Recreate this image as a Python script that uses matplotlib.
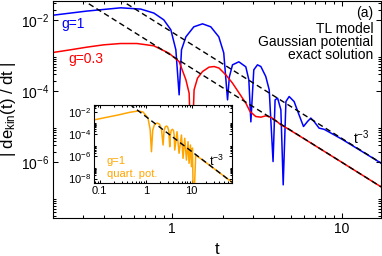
import matplotlib
matplotlib.use("Agg")
import matplotlib.pyplot as plt
import matplotlib.ticker as mticker
import numpy as np

plt.rcParams['font.family'] = ['Liberation Sans', 'DejaVu Sans']
plt.rcParams['mathtext.default'] = 'regular'

# main panel: g=1 (blue)
blue_t = [0.202, 0.316, 0.501, 0.657, 0.784, 0.897, 0.987, 1.056, 1.104, 1.14,
          1.21, 1.347, 1.516, 1.695, 1.889, 2.02, 2.127, 2.18, 2.275, 2.478,
          2.724, 2.838, 2.917, 3.035, 3.19, 3.34, 3.57, 3.74, 3.94, 4.05,
          4.19, 4.38, 4.52, 4.69, 4.9, 5.24, 5.6, 5.95, 6.28, 6.57,
          6.87, 7.35, 7.87, 10.0, 17.0]
blue_v = [1.40e-2, 1.82e-2, 2.25e-2, 2.07e-2, 1.60e-2, 1.03e-2, 5.40e-3, 1.48e-3, 7.96e-5, 1.48e-3,
          3.43e-3, 6.56e-3, 7.96e-3, 6.56e-3, 3.43e-3, 1.21e-3, 5.75e-5, 2.56e-4, 5.57e-4, 6.78e-4,
          4.90e-4, 2.11e-4, 1.38e-5, 4.03e-4, 5.57e-4, 4.99e-4, 2.61e-4, 1.10e-4, 1.05e-6, 5.75e-5,
          6.43e-5, 3.01e-5, 2.32e-7, 5.15e-5, 7.13e-5, 5.15e-5, 2.18e-5, 1.02e-5, 1.41e-5, 1.76e-5,
          1.41e-5, 9.18e-6, 8.5e-6, 4.5e-6, 9.5e-7]

# main panel: g=0.3 (red)
red_t = [0.2, 0.254, 0.318, 0.398, 0.499, 0.625, 0.784, 0.96, 1.104, 1.21,
         1.264, 1.306, 1.352, 1.416, 1.516, 1.656, 1.774, 1.897, 2.078, 2.275,
         2.489, 2.724, 2.885, 3.117, 3.34, 3.57, 3.82, 4.09, 4.38, 4.69,
         6.0, 10.0, 17.0]
red_v = [1.24e-3, 1.48e-3, 1.76e-3, 2.04e-3, 2.22e-3, 2.22e-3, 1.91e-3, 1.19e-3, 6.9e-4, 2.11e-4,
         8.9e-5, 1e-6, 1.10e-4, 2.35e-4, 3.61e-4, 4.80e-4, 4.99e-4, 4.50e-4, 2.91e-4, 1.70e-4,
         8.9e-5, 4.65e-5, 2.70e-5, 1.95e-5, 1.87e-5, 2.04e-5, 1.87e-5, 1.50e-5, 1.14e-5, 9.5e-6,
         4.6e-6, 1.0e-6, 2.04e-7]

# t^-3 guides
hi_t = [0.4, 17.0]
hi_v = [7.3e-2, 9.6e-7]
lo_t = [0.2, 17.0]
lo_v = [0.125, 2.04e-7]

# inset: quartic potential, g=1
ins_t = [0.074, 0.128, 0.25, 0.449, 0.68, 0.873, 1.12, 1.25, 1.33, 1.42,
         1.55, 1.76, 2.0, 2.2, 2.38, 2.5, 2.65, 2.82, 3.0, 3.17,
         3.32, 3.45, 3.6, 3.8, 4.0, 4.15, 4.27, 4.79, 5.3, 5.97,
         6.47, 7.04, 7.67, 8.31, 8.74, 9.37, 9.85, 10.35, 10.9, 12.2,
         30.0, 74.0]
ins_v = [1.80e-3, 2.9e-3, 5.06e-3, 8.85e-3, 1.16e-2, 9.4e-3, 2.72e-3, 2.28e-4, 2.57e-6, 2.28e-4,
         7.0e-4, 9.7e-4, 7.5e-4, 2.5e-4, 1.03e-5, 2.0e-4, 4.3e-4, 5.2e-4, 4.2e-4, 1.8e-4,
         7.2e-6, 1.0e-4, 2.2e-4, 2.64e-4, 2.1e-4, 8.0e-5, 3.65e-6, 1.6e-4, 1.85e-6, 8.1e-5,
         6.6e-7, 4.1e-5, 4.6e-7, 2.03e-5, 2.34e-7, 1.03e-5, 1.16e-7, 5.5e-6, 1e-11, 1.3e-6,
         8.3e-8, 4.9e-9]
ins_guide_t = [0.45, 74.0]
ins_guide_v = [4.6e-2, 4.9e-9]

# tick positions
main_xticks = [1, 10]
main_yticks = [1e-6, 1e-4, 1e-2]
ins_xticks = [0.1, 1, 10]
ins_yticks = [1e-8, 1e-6, 1e-4, 1e-2]


def pow10(v, pos):
    return r'$10^{%d}$' % int(round(np.log10(v)))


def style_axis(ax, xt, yt, fs, major, minor):
    ax.set_xscale('log')
    ax.set_yscale('log')
    ax.yaxis.set_major_locator(mticker.FixedLocator(yt))
    ax.yaxis.set_minor_locator(mticker.LogLocator(base=100, subs=np.arange(2, 10), numticks=50))
    ax.yaxis.set_major_formatter(mticker.FuncFormatter(pow10))
    ax.yaxis.set_minor_formatter(mticker.NullFormatter())
    ax.xaxis.set_major_locator(mticker.FixedLocator(xt))
    ax.xaxis.set_minor_locator(mticker.LogLocator(base=10, subs=np.arange(2, 10), numticks=50))
    ax.xaxis.set_major_formatter(mticker.FuncFormatter(lambda v, p: f'{v:g}'))
    ax.xaxis.set_minor_formatter(mticker.NullFormatter())
    ax.tick_params(which='both', direction='in', top=True, right=True,
                   width=0.75, labelsize=fs, pad=3)
    ax.tick_params(which='major', length=major)
    ax.tick_params(which='minor', length=minor)
    for s in ax.spines.values():
        s.set_linewidth(0.8)


fig = plt.figure(figsize=(3.82, 2.56), dpi=100)
ax = fig.add_axes([53 / 382, 38 / 256, 328 / 382, 217 / 256])
style_axis(ax, main_xticks, main_yticks, 10, 3.5, 2)

ax.plot(blue_t, blue_v, color='#0000ff', lw=1.1, zorder=2)
ax.plot(red_t, red_v, color='#ff0000', lw=1.1, zorder=2)
ax.plot(hi_t, hi_v, color='black', lw=1.0, ls=(0, (4, 2.5)), zorder=3)
ax.plot(lo_t, lo_v, color='black', lw=1.0, ls=(0, (4, 2.5)), zorder=3)
ax.set_xlim(0.2, 17)
ax.set_ylim(2.7e-8, 3.5e-2)

ax.set_xlabel('t', fontsize=12, labelpad=4)
ax.set_ylabel(r'| de$_{kin}$(t) / dt |', fontsize=12, labelpad=2)

ax.text(0.027, 0.894, 'g=1', color='#0000ff', fontsize=10, transform=ax.transAxes,
        ha='left', va='center')
ax.text(0.046, 0.733, 'g=0.3', color='#ff0000', fontsize=10, transform=ax.transAxes,
        ha='left', va='center')
ax.text(0.976, 0.945, '(a)', fontsize=10, transform=ax.transAxes, ha='right', va='center')
ax.text(0.976, 0.871, 'TL model', fontsize=10, transform=ax.transAxes, ha='right', va='center')
ax.text(0.976, 0.809, 'Gaussian potential', fontsize=10, transform=ax.transAxes,
        ha='right', va='center')
ax.text(0.976, 0.751, 'exact solution', fontsize=10, transform=ax.transAxes,
        ha='right', va='center')
ax.text(0.915, 0.369, r't$^{-3}$', fontsize=10, transform=ax.transAxes, ha='left', va='center')

# inset
ins = fig.add_axes([94 / 382, 73 / 256, 138 / 382, 78 / 256])
ins.set_zorder(5)
ins.set_facecolor('white')
style_axis(ins, ins_xticks, ins_yticks, 8, 2.5, 1.5)
ins.plot(ins_t, ins_v, color='#ffa500', lw=1.1, zorder=2)
ins.plot(ins_guide_t, ins_guide_v, color='black', lw=1.0, ls=(0, (4, 2.5)), zorder=3)
ins.set_xlim(0.075, 75)
ins.set_ylim(4e-9, 4e-2)
ins.tick_params(labelsize=8, pad=2)
ins.text(0.092, 0.282, 'g=1', color='#ffa500', fontsize=8, transform=ins.transAxes,
         ha='left', va='center')
ins.text(0.092, 0.115, 'quart. pot.', color='#ffa500', fontsize=8, transform=ins.transAxes,
         ha='left', va='center')
ins.text(0.833, 0.282, r't$^{-3}$', fontsize=9, transform=ins.transAxes, ha='left', va='center')

fig.savefig('out.png', dpi=100)
